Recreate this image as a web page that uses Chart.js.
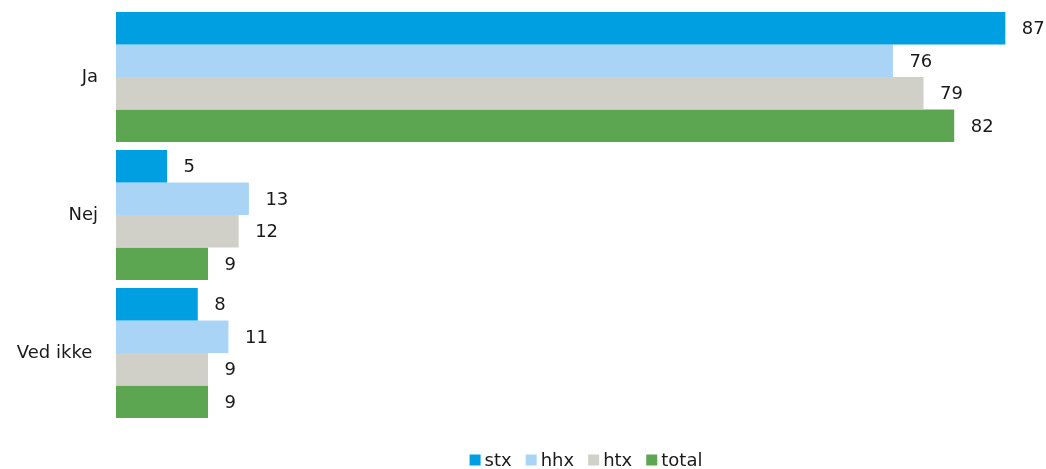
<!DOCTYPE html>
<html>
<head>
<meta charset="utf-8">
<script src="https://cdn.jsdelivr.net/npm/chart.js@4/dist/chart.umd.min.js"></script>
<style>
  html, body { margin: 0; padding: 0; background: #fff; }
  #wrap { width: 1046px; height: 469px; position: relative; }
</style>
</head>
<body>
<div id="wrap"><canvas id="answers"></canvas></div>
<script>
const categories = ["Ja", "Nej", "Ved ikke "];
const seriesNames = ["stx", "hhx", "htx", "total"];
const stx = [87, 5, 8];
const hhx = [76, 13, 11];
const htx = [79, 12, 9];
const total = [82, 9, 9];
const colors = ["#009FE1", "#A9D4F5", "#D0CFC8", "#5CA651"];

const FONT = "'DejaVu Sans', Verdana, sans-serif";
const TEXT = "#1a1a1a";

// value labels just past the end of each bar
const barLabels = {
  id: "barLabels",
  afterDatasetsDraw(chart) {
    const { ctx } = chart;
    ctx.save();
    ctx.font = "18px " + FONT;
    ctx.fillStyle = TEXT;
    ctx.textBaseline = "middle";
    ctx.textAlign = "left";
    chart.data.datasets.forEach((ds, i) => {
      chart.getDatasetMeta(i).data.forEach((bar, j) => {
        ctx.fillText(String(ds.data[j]), bar.x + 16.5, bar.y + 1.5);
      });
    });
    ctx.restore();
  }
};

// compact legend row under the plot: small square, tight gap, then the name
const rowLegend = {
  id: "rowLegend",
  afterDraw(chart) {
    const { ctx, chartArea } = chart;
    const box = 11, gap = 4, spacing = 14;
    ctx.save();
    ctx.font = "18px " + FONT;
    ctx.textBaseline = "middle";
    ctx.textAlign = "left";
    const widths = chart.data.datasets.map(ds => box + gap + ctx.measureText(ds.label).width);
    const full = widths.reduce((a, b) => a + b, 0) + spacing * (widths.length - 1);
    let x = chartArea.left + 470 - full / 2;
    const y = 460;
    chart.data.datasets.forEach((ds, i) => {
      ctx.fillStyle = ds.backgroundColor;
      ctx.fillRect(x, y - 5.5, box, box);
      ctx.fillStyle = TEXT;
      ctx.fillText(ds.label, x + box + gap, y + 1);
      x += widths[i] + spacing;
    });
    ctx.restore();
  }
};

new Chart(document.getElementById("answers"), {
  type: "bar",
  data: {
    labels: categories,
    datasets: [stx, hhx, htx, total].map((vals, i) => ({
      label: seriesNames[i],
      data: vals,
      backgroundColor: colors[i],
      borderWidth: 0,
      barPercentage: 1,
      categoryPercentage: 0.941,
    })),
  },
  options: {
    indexAxis: "y",
    responsive: true,
    maintainAspectRatio: false,
    animation: false,
    layout: { padding: { top: 8, right: 10, bottom: 47, left: 0 } },
    plugins: {
      tooltip: { enabled: false },
      legend: { display: false },
    },
    scales: {
      x: { display: false, min: 0, max: 90 },
      y: {
        grid: { display: false, drawTicks: false },
        border: { display: false },
        ticks: { color: TEXT, font: { family: FONT, size: 18 }, padding: 18 },
        afterFit: (scale) => {
          scale.width = 116;
          scale.paddingTop = 0;
          scale.paddingBottom = 0;
        },
      },
    },
  },
  plugins: [barLabels, rowLegend],
});
</script>
</body>
</html>
